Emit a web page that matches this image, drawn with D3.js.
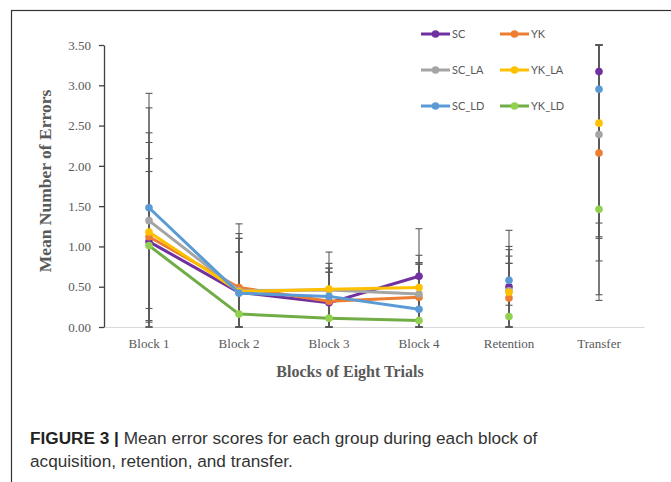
<!DOCTYPE html>
<html lang="en">

<head>
    <meta charset="utf-8" />
    <title>Mean error scores</title>
    <script src="https://d3js.org/d3.v7.min.js"></script>
</head>
<style>
    body {
        margin: 0;
        background: #fff;
    }

    .tick-label {
        font: 13px "Liberation Serif", serif;
        fill: #595959;
    }

    .axis-title {
        font: bold 16px "Liberation Serif", serif;
        fill: #595959;
    }

    .legend text {
        font: 11px Lato, sans-serif;
        fill: #595959;
    }

    .caption {
        font: 17.2px "Liberation Sans", sans-serif;
        fill: #333;
    }
</style>

<body>
    <div id="chart"></div>
</body>

<script>
    var width = 671;
    var height = 482;

    // data
    var categories = ["Block 1", "Block 2", "Block 3", "Block 4", "Retention", "Transfer"];
    var seriesNames = ["SC", "YK", "SC_LA", "YK_LA", "SC_LD", "YK_LD"];
    var SC    = [1.06, 0.43, 0.30, 0.63, 0.50, 3.17];
    var YK    = [1.12, 0.49, 0.32, 0.37, 0.36, 2.16];
    var SC_LA = [1.32, 0.45, 0.46, 0.41, 0.45, 2.39];
    var YK_LA = [1.18, 0.44, 0.47, 0.49, 0.43, 2.53];
    var SC_LD = [1.48, 0.42, 0.38, 0.22, 0.58, 2.95];
    var YK_LD = [1.01, 0.16, 0.11, 0.08, 0.13, 1.46];
    // error bar ends (upper / lower), clipped to the axis range in the original
    var SC_hi    = [2.09, 1.16, 0.68, 1.22, 1.00, 3.50];
    var SC_lo    = [0.23, 0.00, 0.00, 0.00, 0.00, 1.12];
    var YK_hi    = [2.29, 1.28, 0.73, 0.78, 0.79, 3.50];
    var YK_lo    = [0.08, 0.00, 0.00, 0.00, 0.27, 0.40];
    var SC_LA_hi = [2.72, 1.10, 0.93, 0.80, 0.96, 3.50];
    var SC_LA_lo = [0.00, 0.00, 0.00, 0.00, 0.00, 0.82];
    var YK_LA_hi = [2.41, 0.93, 0.79, 0.89, 0.88, 3.50];
    var YK_LA_lo = [0.00, 0.00, 0.00, 0.00, 0.00, 1.10];
    var SC_LD_hi = [2.90, 1.10, 0.73, 0.80, 1.20, 3.50];
    var SC_LD_lo = [0.06, 0.00, 0.00, 0.00, 0.00, 0.33];
    var YK_LD_hi = [1.93, 0.93, 0.68, 0.78, 0.79, 3.50];
    var YK_LD_lo = [0.00, 0.00, 0.00, 0.00, 0.00, 1.29];
    var yTicks = [0, 0.5, 1, 1.5, 2, 2.5, 3, 3.5];

    var lineColors = ["#7030a0", "#ed7d31", "#a5a5a5", "#ffc000", "#5b9bd5", "#70ad47"];
    var markColors = ["#7030a0", "#ed7d31", "#a5a5a5", "#ffc000", "#5b9bd5", "#92d050"];

    var series = [
        { name: "SC", values: SC, hi: SC_hi, lo: SC_lo },
        { name: "YK", values: YK, hi: YK_hi, lo: YK_lo },
        { name: "SC_LA", values: SC_LA, hi: SC_LA_hi, lo: SC_LA_lo },
        { name: "YK_LA", values: YK_LA, hi: YK_LA_hi, lo: YK_LA_lo },
        { name: "SC_LD", values: SC_LD, hi: SC_LD_hi, lo: SC_LD_lo },
        { name: "YK_LD", values: YK_LD, hi: YK_LD_hi, lo: YK_LD_lo }
    ];

    var svg = d3.select("#chart").append("svg")
        .attr("width", width)
        .attr("height", height);

    // outer frame of the figure panel
    svg.append("rect")
        .attr("x", 11.5).attr("y", 10.5)
        .attr("width", 700).attr("height", 500)
        .attr("fill", "none")
        .attr("stroke", "#333")
        .attr("stroke-width", 1.2);

    var x = d3.scaleBand().domain(categories).range([104, 644]).padding(0);
    var y = d3.scaleLinear().domain([0, 3.5]).range([327, 45]);
    function cx(c) { return x(c) + x.bandwidth() / 2; }

    // x axis line (no ticks)
    var xAxis = d3.axisBottom(x).tickSize(0).tickPadding(12);
    var gx = svg.append("g")
        .attr("transform", "translate(0," + y(0) + ")")
        .call(xAxis);
    gx.select(".domain").attr("stroke", "#d9d9d9").attr("stroke-width", 1.2);
    gx.selectAll("text").attr("class", "tick-label").attr("fill", null);

    // y axis
    var yAxis = d3.axisLeft(y).tickValues(yTicks)
        .tickFormat(d3.format(".2f"))
        .tickSizeOuter(0).tickSizeInner(5).tickPadding(8);
    var gy = svg.append("g")
        .attr("transform", "translate(104,0)")
        .call(yAxis);
    gy.select(".domain").attr("stroke", "#404040").attr("stroke-width", 1.3);
    gy.selectAll(".tick line").attr("stroke", "#404040").attr("stroke-width", 1.3);
    gy.selectAll("text").attr("class", "tick-label").attr("fill", null);

    // axis titles
    svg.append("text").attr("class", "axis-title")
        .attr("transform", "translate(51,181) rotate(-90)")
        .attr("text-anchor", "middle")
        .style("font-size", "17.5px")
        .text("Mean Number of Errors");
    svg.append("text").attr("class", "axis-title")
        .attr("x", 350).attr("y", 377)
        .attr("text-anchor", "middle")
        .text("Blocks of Eight Trials");

    // error bars
    var eb = svg.append("g").attr("stroke", "#595959").attr("stroke-width", 1.1);
    series.forEach(function (s) {
        categories.forEach(function (c, i) {
            var px = cx(c);
            eb.append("line").attr("x1", px).attr("x2", px)
                .attr("y1", y(s.lo[i])).attr("y2", y(s.hi[i]));
            [s.lo[i], s.hi[i]].forEach(function (v) {
                eb.append("line").attr("x1", px - 3.5).attr("x2", px + 3.5)
                    .attr("y1", y(v)).attr("y2", y(v));
            });
        });
    });

    // lines across the four acquisition blocks, points for retention and transfer
    var line = d3.line()
        .x(function (d) { return cx(d.c); })
        .y(function (d) { return y(d.v); });

    series.forEach(function (s, k) {
        var pts = categories.map(function (c, i) { return { c: c, v: s.values[i] }; });
        svg.append("path")
            .datum(pts.slice(0, 4))
            .attr("fill", "none")
            .attr("stroke", lineColors[k])
            .attr("stroke-width", 3)
            .attr("stroke-linejoin", "round")
            .attr("d", line);
        svg.append("g").selectAll("circle")
            .data(pts)
            .enter().append("circle")
            .attr("cx", function (d) { return cx(d.c); })
            .attr("cy", function (d) { return y(d.v); })
            .attr("r", 3.8)
            .attr("fill", markColors[k]);
    });

    // legend, two columns by three rows
    var legend = svg.append("g").attr("class", "legend");
    series.forEach(function (s, k) {
        var lx = 421 + (k % 2) * 79;
        var ly = 34 + Math.floor(k / 2) * 36;
        var item = legend.append("g").attr("transform", "translate(" + lx + "," + ly + ")");
        item.append("line").attr("x1", 0).attr("x2", 29).attr("y1", 0).attr("y2", 0)
            .attr("stroke", lineColors[k]).attr("stroke-width", 3);
        item.append("circle").attr("cx", 14.5).attr("cy", 0).attr("r", 3.8).attr("fill", markColors[k]);
        item.append("text").attr("x", 31).attr("y", 4).text(s.name);
    });

    // figure caption
    var cap1 = svg.append("text").attr("class", "caption").attr("x", 30).attr("y", 444);
    cap1.append("tspan").attr("font-weight", "bold").attr("fill", "#222").text("FIGURE 3 | ");
    cap1.append("tspan").text("Mean error scores for each group during each block of");
    svg.append("text").attr("class", "caption").attr("x", 30).attr("y", 467)
        .text("acquisition, retention, and transfer.");
</script>

</html>
